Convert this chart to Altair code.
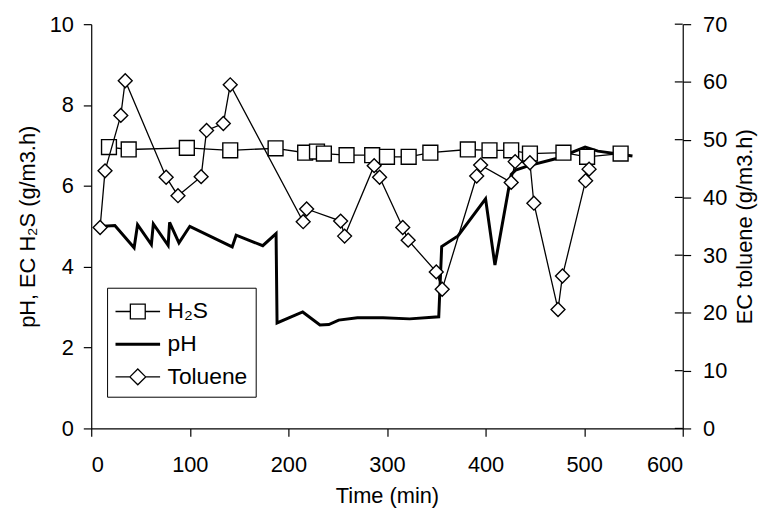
import altair as alt
import pandas as pd

# ---- data ----
h2s_t = [18, 38, 97, 141, 187, 217, 229, 236, 259, 285, 300, 322, 344, 382, 404, 426, 445, 479, 503, 537]
h2s_v = [6.96, 6.90, 6.94, 6.88, 6.93, 6.82, 6.85, 6.80, 6.76, 6.76, 6.72, 6.72, 6.82, 6.90, 6.88, 6.88, 6.80, 6.82, 6.72, 6.80]

ph_t = [12, 24, 43.5, 47, 61, 63, 78, 79.5, 89, 100, 143, 147, 174, 187.5, 188.5, 214.5, 232, 241, 251, 270,
        296, 323, 352.5, 355.5, 372, 400, 409.5, 426, 430.5, 444, 471, 501, 514, 549]
ph_v = [5.0, 5.02, 4.47, 5.04, 4.55, 5.06, 4.53, 5.10, 4.59, 5.0, 4.49, 4.78, 4.52, 4.82, 2.61, 2.88, 2.56, 2.57, 2.68, 2.74,
        2.74, 2.71, 2.76, 4.50, 4.76, 5.68, 4.04, 6.28, 6.39, 6.50, 6.67, 6.96, 6.86, 6.74]

tol_t = [9, 14, 30, 34.5, 76, 88, 111.5, 117, 134, 141, 215, 218.5, 253, 257, 287, 292.5, 316, 321.5, 350, 356,
         391, 395, 426, 430, 445, 449, 473.5, 478, 501.5, 505]
tol_v = [34.8, 44.6, 54.2, 60.2, 43.5, 40.3, 43.6, 51.6, 52.8, 59.5, 35.8, 38.0, 35.9, 33.3, 45.5, 43.5, 34.8, 32.6, 27.1, 24.1,
         43.7, 45.6, 42.6, 46.2, 46.0, 39.0, 20.6, 26.4, 42.9, 44.9]

series_names = ["H\u2082S", "pH", "Toluene"]
x_ticks = [0, 100, 200, 300, 400, 500, 600]
left_ticks = [0, 2, 4, 6, 8, 10]
right_ticks = [0, 10, 20, 30, 40, 50, 60, 70]

h2s_df = pd.DataFrame({"t": h2s_t, "v": h2s_v})
ph_df = pd.DataFrame({"t": ph_t, "v": ph_v})
tol_df = pd.DataFrame({"t": tol_t, "v": tol_v})
legend_df = pd.DataFrame({"series": pd.Series([], dtype=str)})
rtick_df = pd.DataFrame({"v": right_ticks, "t": [x_ticks[-1]] * len(right_ticks)})

FONT = "Liberation Sans"

# legend glyph paths (line + marker)
p_sq = "M-1.5,0 L-0.5,0 M0.5,0 L1.5,0 M-0.5,-0.5 L0.5,-0.5 L0.5,0.5 L-0.5,0.5 Z"
p_line = "M-1.5,-0.06 L1.5,-0.06 M-1.5,0 L1.5,0 M-1.5,0.06 L1.5,0.06"
p_dia = "M-1.5,0 L-0.53,0 M0.53,0 L1.5,0 M-0.53,0 L0,-0.53 L0.53,0 L0,0.53 Z"

xs = alt.X("t:Q", scale=alt.Scale(domain=[0, 600], nice=False),
           axis=alt.Axis(values=x_ticks, title="Time (min)", labelPadding=18, titlePadding=11))
yl_scale = alt.Scale(domain=[0, 10], nice=False)
yl_axis = alt.Axis(values=left_ticks, title="pH, EC H\u2082S (g/m3.h)", orient="left",
                   labelPadding=10, titlePadding=10)
yr_scale = alt.Scale(domain=[0, 70], nice=False)
yr_axis = alt.Axis(values=right_ticks, title="EC toluene (g/m3.h)", orient="right",
                   labelPadding=12, titlePadding=8, titleAngle=270, titleBaseline="top")

ph_line = alt.Chart(ph_df).mark_line(color="black", strokeWidth=3, strokeJoin="miter").encode(
    x=xs, y=alt.Y("v:Q", scale=yl_scale, axis=yl_axis))
h2s_line = alt.Chart(h2s_df).mark_line(color="black", strokeWidth=1.3).encode(
    x="t:Q", y="v:Q")
h2s_pts = alt.Chart(h2s_df).mark_point(shape="square", filled=True, fill="white", stroke="black",
                                       strokeWidth=1.4, size=225, opacity=1).encode(x="t:Q", y="v:Q")

legend_layer = alt.Chart(legend_df).mark_point(filled=False, color="black",
                                                strokeWidth=1.3, size=900, opacity=1).encode(
    shape=alt.Shape("series:N",
                    scale=alt.Scale(domain=series_names, range=[p_sq, p_line, p_dia]),
                    legend=alt.Legend(title=None, orient="none", legendX=16, legendY=266,
                                      strokeColor="black", padding=8, rowPadding=5,
                                      symbolSize=900, symbolOffset=7,
                                      symbolStrokeColor="black", symbolStrokeWidth=1.3,
                                      labelFont=FONT, labelFontSize=23, labelColor="black",
                                      labelOffset=14, cornerRadius=0))
)

left = alt.layer(ph_line, h2s_line, h2s_pts, legend_layer)

tol_line = alt.Chart(tol_df).mark_line(color="black", strokeWidth=1.3).encode(
    x="t:Q", y=alt.Y("v:Q", scale=yr_scale, axis=yr_axis))
tol_pts = alt.Chart(tol_df).mark_point(shape="diamond", filled=True, fill="white", stroke="black",
                                       strokeWidth=1.4, size=196, opacity=1).encode(x="t:Q", y="v:Q")
# inner half of the crossing ticks on the right axis
rticks_in = alt.Chart(rtick_df).mark_tick(orient="horizontal", size=8, thickness=1.2, color="black",
                                          xOffset=-4, opacity=1).encode(x="t:Q", y="v:Q")
right = alt.layer(tol_line, tol_pts, rticks_in)

chart = alt.layer(left, right).resolve_scale(y="independent").properties(
    width=597, height=408,
    autosize=alt.AutoSizeParams(type="none"),
    padding={"left": 84, "top": 14, "right": 80, "bottom": 80},
    background="white",
).configure_view(stroke=None).configure_axis(
    grid=False, labelFont=FONT, titleFont=FONT, labelFontSize=22, titleFontSize=22,
    titleFontWeight="normal", labelColor="black", titleColor="black",
    tickColor="black", domainColor="black", tickSize=8, domainWidth=1.2, tickWidth=1.2,
)

chart.save("out.html", embed_options={"renderer": "svg", "actions": False})
